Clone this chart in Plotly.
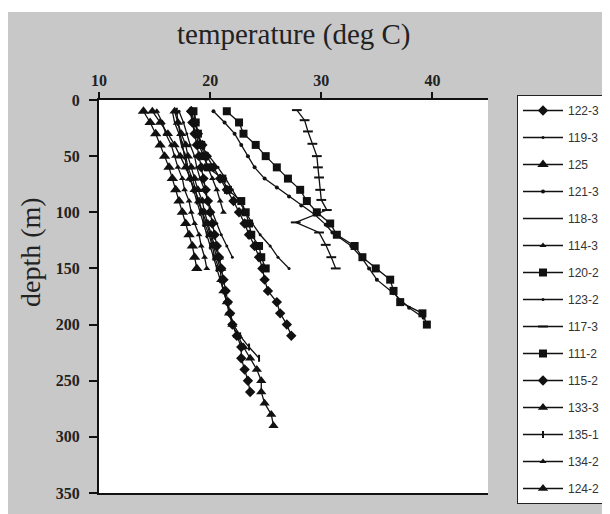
import plotly.graph_objects as go

# ---------------- data (temperature in deg C, depth in m) ----------------
names = ["122-3", "119-3", "125", "121-3", "118-3", "114-3", "120-2", "123-2",
         "117-3", "111-2", "115-2", "133-3", "135-1", "134-2", "124-2"]

depth_122_3 = [10, 20, 30, 40, 50, 60, 70, 80, 90, 100, 110, 120, 130, 140, 150, 160, 170, 180, 190, 200, 210, 220, 230, 240, 250, 260]
temp_122_3 = [18.3, 18.4, 18.6, 18.8, 19.0, 19.2, 19.4, 19.6, 19.8, 20.0, 20.2, 20.4, 20.6, 20.8, 21.0, 21.2, 21.4, 21.6, 21.8, 22.0, 22.4, 22.8, 22.8, 23.1, 23.4, 23.6]

depth_119_3 = [10, 20, 30, 40, 50, 60, 70, 80, 90, 100, 110, 120, 130, 140, 150]
temp_119_3 = [18.6, 18.7, 18.9, 19.1, 19.9, 20.7, 21.4, 22.0, 22.6, 23.2, 23.8, 24.5, 25.4, 26.1, 27.1]

depth_125 = [10, 20, 30, 40, 50, 60, 70, 80, 90, 100, 110, 120, 130, 140, 150]
temp_125 = [14.0, 14.6, 15.1, 15.5, 15.9, 16.3, 16.6, 16.9, 17.2, 17.5, 17.8, 18.1, 18.4, 18.6, 18.8]

depth_121_3 = [10, 20, 30, 40, 50, 60, 70, 78, 86, 94, 102, 111, 118, 130, 140, 150, 160, 172, 185, 194]
temp_121_3 = [20.3, 21.3, 22.2, 22.8, 23.4, 24.0, 24.9, 26.0, 27.1, 28.2, 29.4, 30.4, 31.0, 32.7, 33.6, 34.3, 35.0, 36.5, 37.9, 39.2]

depth_118_3 = [10, 20, 30, 40, 50, 60, 70, 80, 90, 100, 110, 120, 130, 140, 150]
temp_118_3 = [16.6, 16.8, 17.2, 17.4, 17.8, 18.0, 18.4, 18.7, 18.9, 19.3, 19.5, 19.9, 20.2, 20.4, 20.8]

depth_114_3 = [10, 20, 30, 40, 50, 60, 70, 80, 90, 100, 110, 120, 130, 140, 150]
temp_114_3 = [15.2, 15.7, 16.0, 16.5, 16.8, 17.1, 17.5, 17.7, 18.1, 18.3, 18.6, 19.0, 19.2, 19.5, 19.7]

depth_120_2 = [10, 20, 30, 40, 50, 60, 70, 80, 90, 100, 110, 120, 130, 140, 150, 160, 170, 180, 190, 200]
temp_120_2 = [21.5, 22.6, 23.0, 24.1, 25.0, 26.0, 27.0, 28.1, 28.7, 29.6, 30.8, 31.4, 33.0, 33.7, 34.9, 36.2, 36.5, 37.1, 39.1, 39.5]

depth_123_2 = [10, 20, 30, 40, 50, 60, 70, 80, 90, 100, 110, 120, 130, 140]
temp_123_2 = [17.2, 17.6, 17.9, 18.2, 18.6, 18.8, 19.1, 19.5, 19.8, 20.2, 20.6, 21.0, 21.5, 22.0]

depth_117_3 = [9, 18, 28, 39, 50, 60, 69, 80, 89, 98, 109, 118, 129, 140, 150]
temp_117_3 = [27.8, 28.5, 28.8, 29.2, 29.6, 29.7, 29.8, 29.9, 30.0, 30.5, 27.7, 29.8, 30.4, 30.9, 31.3]

depth_111_2 = [10, 20, 30, 40, 50, 60, 70, 80, 90, 100, 110, 120, 130, 140, 150]
temp_111_2 = [18.5, 18.7, 18.9, 19.2, 19.5, 19.8, 21.1, 21.6, 22.8, 23.2, 23.5, 23.7, 24.4, 24.6, 25.0]

depth_115_2 = [10, 20, 30, 40, 50, 60, 70, 80, 90, 100, 110, 120, 130, 140, 150, 160, 170, 180, 190, 200, 210]
temp_115_2 = [18.3, 18.6, 18.9, 19.3, 19.7, 20.3, 20.9, 21.5, 22.1, 22.6, 23.1, 23.5, 24.0, 24.4, 24.7, 24.9, 25.2, 26.0, 26.3, 26.9, 27.3]

depth_133_3 = [10, 20, 30, 40, 50, 60, 70, 80, 90, 100, 110, 120, 130, 140, 150, 160, 170, 180, 190, 200, 210, 220, 230, 240, 250, 260, 270, 280, 290]
temp_133_3 = [14.8, 15.5, 16.2, 16.8, 17.3, 17.8, 18.2, 18.6, 19.0, 19.3, 19.7, 20.0, 20.3, 20.6, 20.9, 21.0, 21.2, 21.5, 21.7, 22.0, 22.5, 23.0, 23.6, 24.2, 24.6, 24.6, 24.9, 25.5, 25.7]

depth_135_1 = [10, 20, 30, 40, 50, 60, 70, 80, 90, 100, 110, 120, 130, 140, 150, 160, 170, 180, 190, 200, 210, 220, 230]
temp_135_1 = [17.0, 17.1, 17.3, 17.5, 17.7, 17.9, 18.2, 18.5, 18.8, 19.1, 19.4, 19.7, 20.0, 20.3, 20.6, 20.9, 21.2, 21.5, 21.8, 22.1, 22.7, 23.5, 24.4]

depth_134_2 = [10, 20, 30, 40, 50, 60, 70, 80, 90, 100]
temp_134_2 = [18.2, 18.4, 18.7, 19.0, 19.4, 19.8, 20.2, 20.6, 20.9, 21.2]

depth_124_2 = [10, 20, 30, 40, 50, 60, 70, 80, 90, 100, 110, 120, 130, 140, 150]
temp_124_2 = [16.8, 17.1, 17.4, 17.8, 18.0, 18.3, 18.6, 18.9, 19.3, 19.5, 19.8, 20.1, 20.4, 20.8, 21.0]

x_ticks = [10, 20, 30, 40]
y_ticks = [0, 50, 100, 150, 200, 250, 300, 350]

series = {
    "122-3": (temp_122_3, depth_122_3),
    "119-3": (temp_119_3, depth_119_3),
    "125": (temp_125, depth_125),
    "121-3": (temp_121_3, depth_121_3),
    "118-3": (temp_118_3, depth_118_3),
    "114-3": (temp_114_3, depth_114_3),
    "120-2": (temp_120_2, depth_120_2),
    "123-2": (temp_123_2, depth_123_2),
    "117-3": (temp_117_3, depth_117_3),
    "111-2": (temp_111_2, depth_111_2),
    "115-2": (temp_115_2, depth_115_2),
    "133-3": (temp_133_3, depth_133_3),
    "135-1": (temp_135_1, depth_135_1),
    "134-2": (temp_134_2, depth_134_2),
    "124-2": (temp_124_2, depth_124_2),
}

# ---------------- styles ----------------
INK = "#111111"
marker_style = {
    "122-3": ("diamond", 8),
    "119-3": ("circle", 3),
    "125": ("triangle-up", 10),
    "121-3": ("circle", 4),
    "118-3": (None, 0),
    "114-3": ("triangle-up", 6),
    "120-2": ("square", 8),
    "123-2": ("circle", 3),
    "117-3": ("line-ew", 7),
    "111-2": ("square", 8),
    "115-2": ("diamond", 8),
    "133-3": ("triangle-up", 9),
    "135-1": ("line-ns", 5),
    "134-2": ("triangle-up", 6),
    "124-2": ("triangle-up", 9),
}

fig = go.Figure()
for i, name in enumerate(names):
    t, d = series[name]
    sym, size = marker_style[name]
    if sym is None:
        fig.add_trace(go.Scatter(x=t, y=d, mode="lines", name=name,
                                 legendgroup=name,
                                 line=dict(color=INK, width=1.3)))
    else:
        fig.add_trace(go.Scatter(x=t, y=d, mode="lines+markers", name=name,
                                 legendgroup=name,
                                 line=dict(color=INK, width=1.3),
                                 marker=dict(symbol=sym, size=size, color=INK,
                                             line=dict(color=INK, width=2 if sym.startswith("line") else 0))))

GRAY = "#c8c8c8"
SERIF = "Liberation Serif, Times New Roman, serif"

# page body adds an 8px white margin at top/left; figure is sized to fill the rest
W, H = 602, 506
fig.update_layout(
    width=W, height=H,
    margin=dict(l=91, r=122, t=92, b=21, autoexpand=False),
    paper_bgcolor=GRAY,
    plot_bgcolor="white",
    showlegend=True,
    legend=dict(
        xref="container", yref="container",
        x=509 / W, y=1 - 87 / H, xanchor="left", yanchor="top",
        bgcolor="white", bordercolor="#222222", borderwidth=1,
        font=dict(family="Liberation Sans, Arial, sans-serif", size=12, color="#333333"),
        tracegroupgap=8, itemwidth=40, maxheight=440,
    ),
    xaxis=dict(
        side="top", range=[10, 45], tickvals=x_ticks, ticktext=[str(v) for v in x_ticks],
        showgrid=False, zeroline=False, showline=True, linecolor="#111111", linewidth=2,
        mirror=True, ticks="outside", ticklen=6, tickwidth=1.5, tickcolor="#111111",
        tickfont=dict(family=SERIF, size=16, color="#222222", weight="bold"),
    ),
    yaxis=dict(
        range=[350, 0], tickvals=y_ticks, ticktext=[str(v) for v in y_ticks],
        showgrid=False, zeroline=False, showline=True, linecolor="#111111", linewidth=2,
        ticks="outside", ticklen=8, tickwidth=1.5, tickcolor="#111111",
        ticklabelstandoff=6,
        tickfont=dict(family=SERIF, size=16, color="#222222", weight="bold"),
    ),
    shapes=[
        # thin white strip at the very top of the picture
        dict(type="rect", xref="paper", yref="paper", x0=-0.3, x1=1.4,
             y0=(485 - 4) / 393, y1=1.3, fillcolor="white", line=dict(width=0), layer="below"),
    ],
    annotations=[
        dict(text="temperature (deg C)", xref="paper", yref="paper",
             x=(294 - 99) / 389, y=(493 - 35) / 393, xanchor="center", yanchor="middle",
             showarrow=False, font=dict(family=SERIF, size=29, color="#222222")),
        dict(text="depth (m)", xref="paper", yref="paper", textangle=-90,
             x=(30 - 99) / 389, y=(493 - 252) / 393, xanchor="center", yanchor="middle",
             showarrow=False, font=dict(family=SERIF, size=28, color="#222222")),
    ],
)

fig.write_html("out.html")
